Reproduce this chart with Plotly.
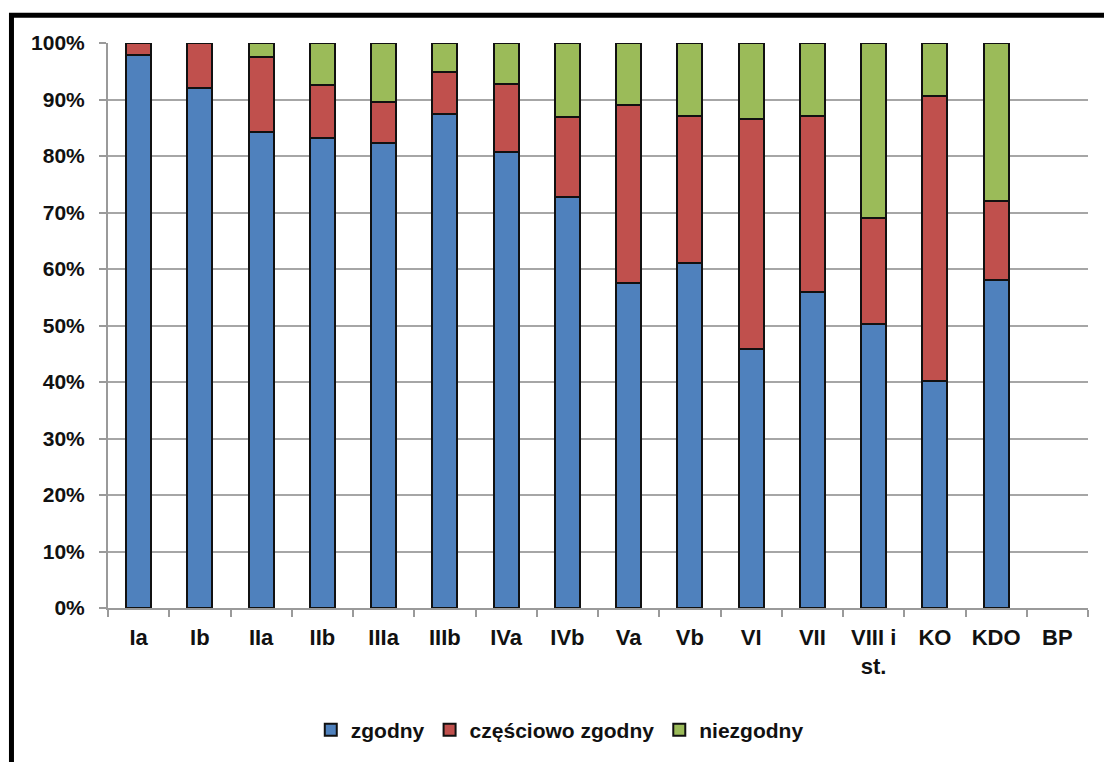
import plotly.graph_objects as go

# Categories and stacked shares (%)
categories = ["Ia", "Ib", "IIa", "IIb", "IIIa", "IIIb", "IVa", "IVb", "Va", "Vb",
              "VI", "VII", "VIII i<br>st.", "KO", "KDO", "BP"]
zgodny = [97.8, 92.0, 84.2, 83.1, 82.3, 87.5, 80.7, 72.8, 57.5, 61.0,
          45.8, 56.0, 50.3, 40.1, 58.1, None]
czesciowo_zgodny = [2.2, 8.0, 13.4, 9.4, 7.2, 7.4, 12.0, 14.1, 31.5, 26.0,
                    40.8, 31.0, 18.8, 50.6, 14.0, None]
niezgodny = [0.0, 0.0, 2.4, 7.5, 10.5, 5.1, 7.3, 13.1, 11.0, 13.0,
             13.4, 13.0, 30.9, 9.3, 27.9, None]

series = [
    ("zgodny", zgodny, "#4F81BD"),
    ("częściowo zgodny", czesciowo_zgodny, "#C0504D"),
    ("niezgodny", niezgodny, "#9BBB59"),
]

fig = go.Figure()
for name, vals, color in series:
    fig.add_trace(go.Bar(
        x=categories, y=vals, name=name,
        marker=dict(color=color, line=dict(color="#111111", width=2)),
    ))

font_family = "Liberation Sans, Arial, sans-serif"

fig.update_layout(
    width=1104, height=762,
    barmode="stack",
    bargap=0.59,
    paper_bgcolor="white",
    plot_bgcolor="white",
    margin=dict(l=108, r=16, t=43, b=153),
    font=dict(family=font_family, size=21, color="#111111"),
    showlegend=True,
    legend=dict(
        orientation="h", traceorder="normal",
        x=0.461, xanchor="center", y=-0.214, yanchor="middle",
        font=dict(family=font_family, size=21, color="#111111", weight="bold"),
        itemwidth=30, tracegroupgap=0,
    ),
    xaxis=dict(
        type="category",
        showline=True, linecolor="#9a9a9a", linewidth=2,
        ticks="outside", tickson="boundaries", ticklen=7, tickcolor="#9a9a9a", tickwidth=2,
        showgrid=False,
        ticklabelstandoff=9,
        tickfont=dict(family=font_family, size=22, color="#111111", weight="bold"),
    ),
    yaxis=dict(
        range=[0, 100],
        tickvals=[0, 10, 20, 30, 40, 50, 60, 70, 80, 90, 100],
        ticktext=[f"{v}%" for v in range(0, 101, 10)],
        showline=True, linecolor="#9a9a9a", linewidth=2,
        ticks="outside", ticklen=7, tickcolor="#9a9a9a", tickwidth=2,
        showgrid=True, gridcolor="#a6a6a6", gridwidth=2,
        ticklabelstandoff=10,
        tickfont=dict(family=font_family, size=21, color="#111111", weight="bold"),
        zeroline=False,
    ),
    shapes=[
        dict(type="rect", xref="paper", yref="paper",
             x0=-0.0985, x1=1.05, y0=-0.35, y1=1.049,
             line=dict(color="black", width=5), fillcolor="rgba(0,0,0,0)", layer="above"),
    ],
)

fig.write_html("out.html")
